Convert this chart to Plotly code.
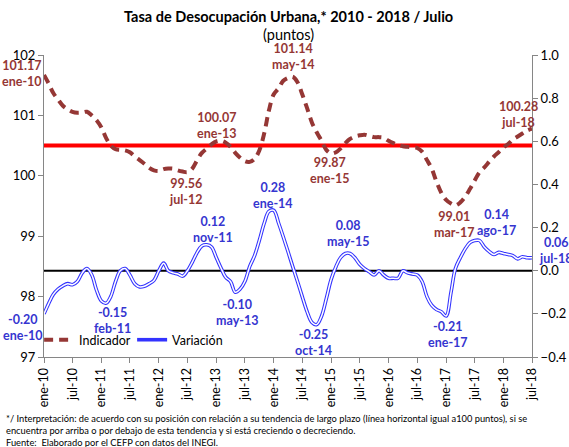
import pandas as pd
import plotly.graph_objects as go

# ---------------- data ----------------
months = pd.date_range("2010-01-01", periods=103, freq="MS")

indicador = [
    101.17, 101.02, 100.87, 100.76, 100.66, 100.60, 100.56, 100.545, 100.55, 100.56,
    100.50, 100.42, 100.30, 100.12, 100.00, 99.94, 99.93, 99.92, 99.89, 99.82,
    99.76, 99.70, 99.63, 99.59, 99.58, 99.61, 99.62, 99.62, 99.59, 99.57,
    99.56, 99.62, 99.76, 99.88, 99.95, 100.02, 100.07, 100.08, 100.05, 99.98,
    99.88, 99.80, 99.74, 99.73, 99.78, 99.92, 100.20, 100.58, 100.85, 100.95,
    101.07, 101.12, 101.14, 101.05, 100.85, 100.62, 100.38, 100.22, 100.08, 99.93,
    99.87, 99.89, 99.95, 100.04, 100.11, 100.15, 100.17, 100.18, 100.16, 100.14,
    100.14, 100.13, 100.08, 100.04, 100.01, 99.99, 99.98, 99.97, 99.96, 99.90,
    99.76, 99.62, 99.40, 99.22, 99.10, 99.04, 99.01, 99.06, 99.15, 99.28,
    99.42, 99.56, 99.64, 99.73, 99.82, 99.89, 99.97, 100.03, 100.10, 100.15,
    100.20, 100.25, 100.28,
]

variacion = [
    -0.20, -0.15, -0.11, -0.085, -0.07, -0.06, -0.065, -0.05, -0.01, 0.01,
    -0.02, -0.09, -0.14, -0.15, -0.12, -0.05, 0.00, 0.01, -0.02, -0.06,
    -0.075, -0.072, -0.06, -0.045, 0.00, 0.035, 0.00, -0.01, -0.015, -0.025,
    0.00, 0.04, 0.085, 0.115, 0.12, 0.11, 0.06, 0.01, -0.03, -0.05,
    -0.10, -0.085, -0.05, 0.02, 0.07, 0.14, 0.22, 0.275, 0.28, 0.22,
    0.16, 0.09, 0.02, -0.05, -0.12, -0.19, -0.24, -0.25, -0.21, -0.13,
    -0.04, 0.02, 0.06, 0.08, 0.08, 0.06, 0.03, 0.01, -0.005, -0.02,
    0.00, -0.02, -0.035, -0.035, -0.035, 0.00, -0.01, -0.015, -0.02, -0.05,
    -0.12, -0.16, -0.18, -0.19, -0.21, -0.10, 0.01, 0.06, 0.10, 0.13,
    0.14, 0.14, 0.11, 0.09, 0.075, 0.085, 0.08, 0.075, 0.07, 0.055,
    0.065, 0.06, 0.06,
]

tick_labels = ["ene-10", "jul-10", "ene-11", "jul-11", "ene-12", "jul-12", "ene-13",
               "jul-13", "ene-14", "jul-14", "ene-15", "jul-15", "ene-16", "jul-16",
               "ene-17", "jul-17", "ene-18", "jul-18"]

tendencia = 100.0

# labelled points: (month index, caption, x shift, y shift)
ind_labels = [(0, "ene-10", -22, 1), (30, "jul-12", -1, -19), (36, "ene-13", 1, 16),
              (52, "may-14", 0, 20), (60, "ene-15", -1, -17), (86, "mar-17", -1, -19),
              (102, "jul-18", -14, 14)]
var_labels = [(0, "ene-10", -21, -14), (13, "feb-11", 6, -17), (34, "nov-11", 6, 15),
              (40, "may-13", 2, -20), (48, "ene-14", -1, 15), (57, "oct-14", -3, -18),
              (64, "may-15", -2, 20), (84, "ene-17", 2, -18), (91, "ago-17", 17, 18),
              (102, "jul-18", 24, 7)]

BROWN = "#953735"
BLUE_LINE = "#3333ff"
BLUE_TXT = "#3535d0"
FONT = "Lato, 'Open Sans', sans-serif"
AXC = "#868686"

fig = go.Figure()

# empty trace so that the left (primary) axis is drawn
fig.add_trace(go.Scatter(x=[months[0]], y=[None], yaxis="y", mode="lines",
                         showlegend=False, hoverinfo="skip"))

# reference lines as traces
fig.add_trace(go.Scatter(x=[months[0], months[-1]], y=[tendencia, tendencia], yaxis="y3",
                         mode="lines", line=dict(color="#ff0000", width=4),
                         showlegend=False, hoverinfo="skip"))
fig.add_trace(go.Scatter(x=[months[0], months[-1]], y=[0, 0], yaxis="y2",
                         mode="lines", line=dict(color="black", width=2),
                         showlegend=False, hoverinfo="skip"))

fig.add_trace(go.Scatter(
    x=months, y=indicador, name="Indicador", yaxis="y3", mode="lines",
    line=dict(color=BROWN, width=4, dash="9px,6px", shape="spline", smoothing=1.0),
))
fig.add_trace(go.Scatter(
    x=months, y=variacion, name="Variación", yaxis="y2", mode="lines",
    line=dict(color=BLUE_LINE, width=3.6, shape="spline", smoothing=1.0),
))
fig.add_trace(go.Scatter(
    x=months, y=variacion, name="Variación", yaxis="y2", mode="lines", showlegend=False,
    line=dict(color="white", width=1.5, shape="spline", smoothing=1.0), hoverinfo="skip",
))

anns = []
for m, cap, dx, dy in ind_labels:
    anns.append(dict(x=months[m], y=indicador[m], xref="x", yref="y3",
                     text=f"<b>{indicador[m]:.2f}<br>{cap}</b>", showarrow=False,
                     xanchor="center", xshift=dx, yshift=dy,
                     font=dict(family=FONT, size=12.5, color=BROWN), align="center"))
for m, cap, dx, dy in var_labels:
    anns.append(dict(x=months[m], y=variacion[m], xref="x", yref="y2",
                     text=f"<b>{variacion[m]:.2f}<br>{cap}</b>", showarrow=False,
                     xanchor="center", xshift=dx, yshift=dy,
                     font=dict(family=FONT, size=12.5, color=BLUE_TXT), align="center"))

anns.append(dict(x=0.5, y=1, xref="paper", yref="paper", yanchor="bottom", yshift=28,
                 showarrow=False,
                 text="<b>Tasa de Desocupación Urbana,* 2010 - 2018 / Julio</b>",
                 font=dict(family=FONT, size=14.5, color="black")))
anns.append(dict(x=0.5, y=1, xref="paper", yref="paper", yanchor="bottom", yshift=10,
                 showarrow=False, text="(puntos)",
                 font=dict(family=FONT, size=14.5, color="black")))

foot = ("*/ Interpretación: de acuerdo con su posición con relación a su tendencia de largo plazo "
        "(línea horizontal igual a100 puntos), si se<br>encuentra por arriba o por debajo de esta "
        "tendencia y si está creciendo o decreciendo.<br>Fuente:  Elaborado por el CEFP con datos del INEGI.")
anns.append(dict(x=0, y=0, xref="paper", yref="paper", xanchor="left", yanchor="top",
                 xshift=-40, yshift=-54, showarrow=False, align="left", text=foot,
                 font=dict(family="'Liberation Sans Narrow', Lato, sans-serif", size=9.3,
                           color="black")))

fig.update_layout(
    width=569, height=447,
    margin=dict(l=44, r=37, t=55, b=90, autoexpand=False),
    paper_bgcolor="white", plot_bgcolor="white",
    font=dict(family=FONT, size=13, color="black"),
    showlegend=True,
    legend=dict(orientation="h", x=-0.01, y=0.056, xanchor="left", yanchor="middle",
                bgcolor="rgba(0,0,0,0)", font=dict(family=FONT, size=12.5, color="black"),
                itemwidth=30, tracegroupgap=0, entrywidth=48, entrywidthmode="pixels"),
    xaxis=dict(
        range=[months[0], months[-1]], tickvals=list(months[::6]), ticktext=tick_labels,
        tickangle=-90, ticks="outside", ticklen=5, tickcolor=AXC,
        showline=True, linecolor=AXC, linewidth=1, showgrid=False, zeroline=False,
        tickfont=dict(family=FONT, size=12.5, color="black"),
    ),
    yaxis=dict(
        range=[97, 102], dtick=1, ticks="outside", ticklen=5, tickcolor=AXC,
        showline=True, linecolor=AXC, linewidth=1, showgrid=False, zeroline=False,
        tickfont=dict(family=FONT, size=13, color="black"),
    ),
    yaxis2=dict(
        range=[-0.4, 1.0], dtick=0.2, tickformat=".1f", overlaying="y", side="right",
        ticks="outside", ticklen=5, tickcolor=AXC,
        showline=True, linecolor=AXC, linewidth=1, showgrid=False, zeroline=False,
        tickfont=dict(family=FONT, size=13, color="black"),
    ),
    yaxis3=dict(range=[96.5, 101.5], overlaying="y", visible=False),
    annotations=anns,
)

fig.write_html("out.html", post_script="document.body.style.margin='0';",
               config={"displayModeBar": False})
